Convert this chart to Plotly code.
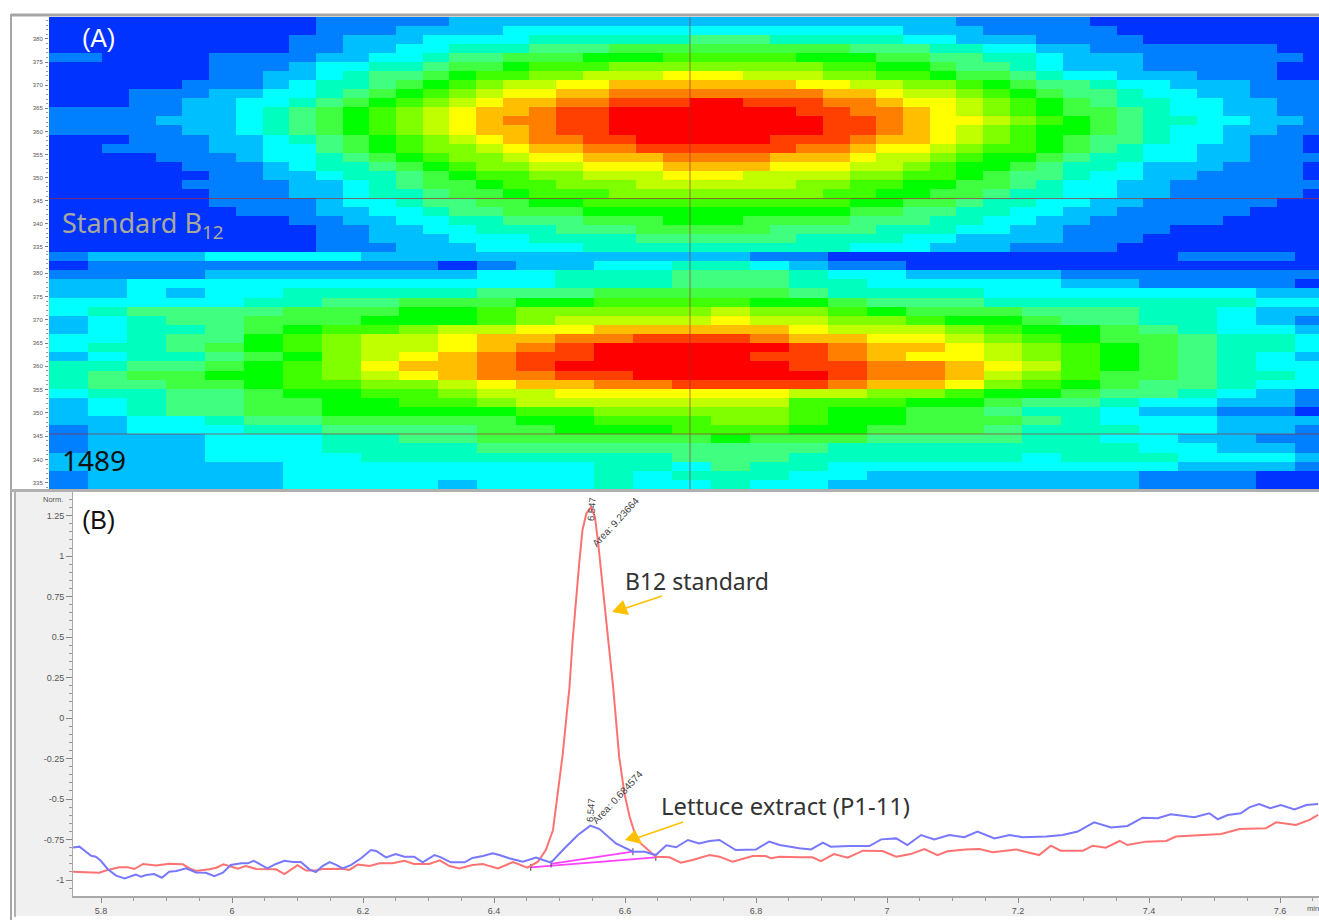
import plotly.graph_objects as go

W, H = 1319, 920

# Rainbow intensity levels used by the contour plots (index = level)
level_colors = ["#0033ff", "#0080ff", "#00bfff", "#00ffff", "#00ffbf", "#40ff80", "#40ff40", "#00ff00",
                "#40ff00", "#80ff00", "#bfff00", "#ffff00", "#ffbf00", "#ff8000", "#ff4000", "#ff0000"]

# Panel A, standard B12: run-length rows of hex levels (level*count), top row first
standard_rows = [
    "0*10 1*5 2*19 1*5 0*9",
    "0*10 1*3 2*4 3*15 2*3 1*5 0*8",
    "0*9 1*2 2*3 3*4 4*6 5*3 4*5 3*2 2*3 1*4 0*7",
    "0*9 1*2 2*2 3*2 4*3 5*3 6*9 5*3 4*2 3*2 2*2 1*7 0*2",
    "1*2 0*4 1*4 2*2 3*2 4 5*2 6*3 7*3 8*5 7*3 6*2 5*2 4*2 3 2*3 1*6 0",
    "0*6 1*3 2 3*2 4*2 5 6*2 7 8*3 9*8 8*2 7*2 6 5*2 4 3 2*3 1*5 0*2",
    "0*6 1*2 2*2 3 4 5*2 6 7 8*2 9*2 a*3 b*3 a*3 9*2 8*2 7 6*2 5 4 3*2 2*3 1*3 0*2",
    "0*5 1*3 2 3 4*2 5 6 7 8 9 a*2 b*2 c*7 b*2 a*2 9*2 8 7 6 5*2 4 3*2 2*3 1*3",
    "0*3 1*3 2*2 3*2 4 5 6 7 8 9 a b*2 c*2 d*8 c*2 b a*2 9 8 7 6 5*2 4 3*2 2*2 1*3",
    "0*3 1*2 2*2 3*2 4 5 6 7 8 9 a b c*2 d*2 e*3 f*2 e*3 d*2 c b*2 a 9 8 7 6 5 4*2 3*2 2*2 1*2",
    "1*5 2*2 3 4 5 6 7 8 9 a b c*2 d e*2 f*7 e*2 d*2 c b a 9 8 7 6 6 5 4 3*2 2*2 1*2",
    "1*4 2*3 3 4 5 6 7 8 9 a b c d d e*2 f*8 e*2 d c b*2 a 9 8 7 6 5 4 4 3*2 2*2 1",
    "1*5 2*2 3 4 5 6 7 8 9 a b c*2 d e*2 f*8 e*2 d c b a 9 8 7 7 6 5 4 3*2 2*2 1*2",
    "0*3 1*3 2*2 3 4 5 6 7 8 9 a b c d*2 e*2 f*5 e*3 d c*2 b a 9 8 7 6 5 5 4 3*2 2 1*2 0",
    "0*2 1*4 2*2 3*2 5 6 7 8 9 9 a b c*2 d*2 e*6 d*2 c b*2 a 9 8*2 7 6 5 4 3*2 2*2 1*2 0",
    "0*4 1*3 2 3*2 4 5 6 7 8 9 9 a b*2 c*3 d*4 c*3 b a*2 9 8 7*2 6 5 4*2 3*2 2*2 1*3",
    "0*5 1*3 2 3 4 4 5 6 7 8 9 9 a*2 b*3 c*4 b*3 a*2 9 8 7*2 6 5 4*2 3 2*3 1*3 0",
    "0*6 1*2 2*2 3 4 4 5 6 7 8 8 9 9 a*3 b*3 a*4 9*2 8*2 7 6 5*2 4 3*2 2*2 1*4 0",
    "0*5 1*4 2*2 3 4 5 6*2 7 8*2 9*3 a*6 9*2 8*2 7*2 6*2 5 4 3*2 2*2 1*6",
    "0*6 1*3 2*2 3 4*2 5 6*2 7 8*3 9*8 8*2 7*2 6*2 5 4*2 3*2 2*2 1*5 0",
    "0*6 1*4 2 3*2 4 5*2 6*2 7*2 8*10 7*2 6*2 5 4*2 3*2 2*2 1*5 0*2",
    "0*7 1*3 2*2 3*2 4 5*2 6*3 7*10 6*2 5*2 4*2 3*2 2*2 1*5 0*3",
    "0*9 1*2 2*2 3*2 4*2 5*3 6*3 7*3 6*4 5*3 4*2 3*2 2*2 1*5 0*4",
    "0*10 1*2 2*2 3*2 4*3 5*3 6*5 5*4 4*3 3*2 2*2 1*4 0*6",
    "0*10 1*2 2*3 3*3 4*4 5*6 4*4 3*2 2*4 1*3 0*7",
    "0*10 1*3 2*3 3*4 4*10 3*3 2*3 1*4 0*8",
]

# Panel A, sample 1489: same notation, top row first
sample_rows = [
    "1 2*3 3*4 2*10 1*2 0*9 1*3 0",
    "0 1*9 0 1 2*2 3*2 4*2 3 2 1*2 0*11",
    "1*4 2*7 3*2 4*3 5*3 4 3*2 2*4 1*7",
    "2*2 3*11 4*3 5*3 4*2 3*5 2*2 1*4 0",
    "2*2 3 2 3*2 4*5 5*3 6*5 5 4*4 3*7 2*2",
    "3*5 4*2 5*2 6*3 7*2 8*4 7*2 6 5*3 4*7 3*2",
    "3 4 5*4 6*3 7*2 8 9*5 a 9*2 8 7 6*3 5*3 4*2 3 2*2",
    "2 3 4 5*2 6*3 7*3 8 9 a*4 b a*2 9*2 8 7*2 6 5*2 4*2 3 2 1",
    "2 3 4*2 5 6 7 8*2 9 a*2 b*2 c*5 b a*3 9 8 7*2 6 5 4 3*2 2",
    "3 3 4 5 5 7 8 9 a a b c c d d e e e d c c b b a 9 8 7 6 6 5 4 4 3",
    "3 4 4 5 6 7 8 9 a a b c d e f f f f f e d c c b a 9 8 7 6 5 4 4 3",
    "2 3 4 4 5 6 7 9 a b c d e e f f f f e e d c b b a 9 8 7 6 5 4 3 2",
    "4 4 5 5 6 7 8 9 b c c d e f f f f f f e e d d c b a 8 7 6 5 4 3 3",
    "4 5 6 6 7 7 8 9 a b c d d e e f f f f f e d d c a 9 8 6 6 5 4 4 3",
    "4 5 5 6 6 7 8 8 9 9 a b c c d d e e e e d c c b 9 8 7 6 5 5 4 3 3",
    "3 4 4 5 5 6 7 7 8 8 9 a a b b b b b b a a 9 9 8 7 7 6 5 5 4 3 2 1",
    "2 3 4 5 5 6 6 7 7 8 8 9 a a a a a a a 8 8 8 7 7 6 5 5 4 3 3 2 2 1",
    "2 3 4 5 5 6 6 7 7 7 7 7 8 8 9 9 9 9 9 8 7 7 6 6 5 4 4 3 2 2 1 1 0",
    "2 2 3 3 4 5 5 6 6 6 6 6 7 7 8 8 8 9 9 8 7 7 6 6 6 5 4 3 3 3 2 2 2",
    "1 2 3 3 3 4 4 5 5 5 5 6 6 7 7 7 8 8 8 7 7 6 6 6 5 4 4 4 3 3 2 2 1",
    "1 2 2 2 3 3 3 4 4 5 5 6 6 6 6 6 6 7 6 6 6 5 5 5 5 4 4 3 3 2 2 1 1",
    "1 2 2 2 3 3 3 4 4 4 4 5 5 5 5 5 5 5 5 5 4 4 4 4 4 4 4 4 3 3 2 2 1",
    "2 2 2 2 3 3 3 3 4 4 4 4 4 4 4 4 5 5 5 4 4 4 4 4 4 3 4 4 4 3 3 3 2",
    "2 2 2 2 2 2 3 3 3 3 3 3 3 3 4 4 3 5 4 4 3 3 3 3 3 3 3 3 3 2 2 2 1",
    "1 2 2 2 2 2 3 3 3 3 3 3 3 3 4 3 4 4 4 3 3 2 2 2 2 2 2 2 1 1 1 0 0",
    "1 2 2 2 2 2 3 3 3 3 2 3 3 3 4 3 3 4 3 3 2 2 2 2 2 2 2 2 1 1 1 0 0",
]


def expand_runs(row):
    cells = []
    for tok in row.split():
        if "*" in tok:
            lvl, n = tok.split("*")
            cells += [int(lvl, 16)] * int(n)
        else:
            cells.append(int(tok, 16))
    return cells


z_standard = [expand_runs(r) for r in standard_rows]
z_sample = [expand_runs(r) for r in sample_rows]
assert all(len(r) == 48 for r in z_standard) and len(z_standard) == 26
assert all(len(r) == 33 for r in z_sample) and len(z_sample) == 26

mz_ticks = [335, 340, 345, 350, 355, 360, 365, 370, 375, 380]
norm_ticks = [-1, -0.75, -0.5, -0.25, 0, 0.25, 0.5, 0.75, 1, 1.25]
norm_tick_text = ["-1", "-0.75", "-0.5", "-0.25", "0", "0.25", "0.5", "0.75", "1", "1.25"]

# Panel B chromatograms: retention time (min), normalised response
standard_t = [5.757, 5.797, 5.810, 5.828, 5.841, 5.851, 5.864, 5.884, 5.904, 5.925, 5.935, 5.945, 5.965, 5.976,
              5.987, 5.998, 6.009, 6.021, 6.037, 6.067, 6.080, 6.100, 6.113, 6.126, 6.138, 6.169, 6.179, 6.192,
              6.210, 6.225, 6.245, 6.263, 6.278, 6.301, 6.317, 6.332, 6.347, 6.367, 6.383, 6.393, 6.406, 6.429,
              6.451, 6.467, 6.479, 6.490, 6.497, 6.505, 6.511, 6.515, 6.520, 6.525, 6.530, 6.535, 6.541, 6.548,
              6.554, 6.559, 6.565, 6.571, 6.577, 6.582, 6.591, 6.599, 6.607, 6.614, 6.624, 6.647, 6.668, 6.685,
              6.703, 6.729, 6.744, 6.764, 6.795,
              6.815, 6.823, 6.836, 6.866, 6.886, 6.899, 6.919, 6.940, 6.963, 6.993, 7.014, 7.036, 7.057, 7.077,
              7.092, 7.120, 7.141, 7.161, 7.197, 7.232, 7.250, 7.265, 7.299, 7.314, 7.334, 7.355, 7.367, 7.395,
              7.426, 7.441, 7.487, 7.510, 7.538, 7.578, 7.594, 7.624, 7.645, 7.658]
standard_v = [-0.949, -0.955, -0.938, -0.922, -0.922, -0.932, -0.901, -0.911, -0.899, -0.903, -0.928, -0.944,
              -0.934, -0.924, -0.903, -0.918, -0.930, -0.914, -0.932, -0.934, -0.963, -0.909, -0.942, -0.942,
              -0.932, -0.930, -0.938, -0.905, -0.914, -0.897, -0.897, -0.881, -0.901, -0.901, -0.879, -0.914,
              -0.928, -0.907, -0.901, -0.914, -0.928, -0.889,
              -0.924, -0.887, -0.815, -0.691, -0.485, -0.218, 0.029, 0.184, 0.482, 0.729, 0.956, 1.162, 1.265, 1.302,
              1.244, 1.079, 0.853, 0.606, 0.359, 0.184, -0.238, -0.465, -0.609, -0.701, -0.774, -0.856, -0.860, -0.893,
              -0.876, -0.846, -0.856, -0.887, -0.852, -0.852, -0.866, -0.856,
              -0.860, -0.860, -0.883, -0.840, -0.862, -0.819, -0.821, -0.856, -0.840, -0.809, -0.846, -0.823,
              -0.811, -0.809, -0.829, -0.811, -0.846, -0.788, -0.819, -0.819, -0.788, -0.800, -0.759, -0.784,
              -0.763, -0.759, -0.732, -0.722, -0.716, -0.685, -0.681, -0.644, -0.660, -0.629, -0.598]

lettuce_t = [5.757, 5.767, 5.777, 5.785, 5.792, 5.800, 5.810, 5.823, 5.836, 5.846, 5.853, 5.861, 5.869, 5.881,
             5.893, 5.904, 5.915, 5.930, 5.945, 5.960, 5.973, 5.986, 5.998, 6.014, 6.024, 6.033, 6.044, 6.054,
             6.067, 6.080, 6.093, 6.105, 6.118, 6.128, 6.138, 6.149, 6.159, 6.169, 6.182, 6.197, 6.212, 6.220,
             6.235, 6.250, 6.263, 6.278, 6.291, 6.309, 6.319, 6.334, 6.355, 6.367, 6.383, 6.398, 6.408, 6.423,
             6.444, 6.454, 6.464, 6.476, 6.487, 6.505, 6.528, 6.547, 6.561, 6.586, 6.612, 6.630, 6.647, 6.663,
             6.678, 6.696, 6.713, 6.729, 6.744, 6.769, 6.800, 6.820, 6.836, 6.866, 6.884, 6.902, 6.914, 6.942,
             6.973, 6.991, 7.014, 7.031, 7.052, 7.072, 7.095, 7.118, 7.138, 7.164, 7.187, 7.207, 7.243, 7.268,
             7.291, 7.316, 7.342, 7.367, 7.390, 7.413, 7.433, 7.469, 7.492, 7.505, 7.520, 7.540, 7.553, 7.568,
             7.585, 7.601, 7.622, 7.640, 7.658]
lettuce_v = [-0.800, -0.794, -0.825, -0.850, -0.856, -0.883, -0.932, -0.973, -0.990, -0.975, -0.967, -0.979,
             -0.969, -0.963, -0.986, -0.949, -0.944, -0.928, -0.953, -0.955, -0.977, -0.955, -0.907, -0.897,
             -0.897, -0.881, -0.903, -0.928, -0.901, -0.881, -0.889, -0.889, -0.934, -0.951, -0.914, -0.889,
             -0.907, -0.928, -0.907, -0.866, -0.815, -0.821, -0.860, -0.839, -0.856, -0.856, -0.891, -0.846,
             -0.860, -0.891, -0.891, -0.864, -0.852, -0.835, -0.846, -0.866, -0.887, -0.876, -0.862, -0.878, -0.893,
             -0.815, -0.722, -0.664, -0.685, -0.774, -0.825, -0.825, -0.846, -0.786, -0.798, -0.753,
             -0.774, -0.759, -0.753, -0.815, -0.811, -0.763, -0.784, -0.804, -0.811, -0.769, -0.794, -0.790,
             -0.790, -0.749, -0.743, -0.784, -0.722, -0.749, -0.722, -0.736, -0.701, -0.743, -0.722, -0.736,
             -0.732, -0.722, -0.701, -0.644, -0.675, -0.666, -0.615, -0.619, -0.594, -0.613, -0.588, -0.625,
             -0.599, -0.588, -0.551, -0.531, -0.557, -0.537, -0.564, -0.537, -0.531]

standard_baseline_t = [6.456, 6.647]
standard_baseline_v = [-0.922, -0.860]
lettuce_baseline_t = [6.487, 6.612]
lettuce_baseline_v = [-0.901, -0.825]
peak_time_label = "6.547"
standard_area_label = "Area: 9.23664"
lettuce_area_label = "Area: 0.684574"


def fx(x):
    return x / W


def fy(y):
    return 1 - y / H


colorscale = [[i / 15, c] for i, c in enumerate(level_colors)]
fig = go.Figure()

fig.add_trace(go.Heatmap(z=z_standard, x0=0, dx=1, y0=383.78, dy=-1.957, colorscale=colorscale, zmin=0, zmax=15,
                         showscale=False, xaxis="x", yaxis="y", hoverinfo="skip"))
fig.add_trace(go.Heatmap(z=z_sample, x0=0, dx=1, y0=383.55, dy=-1.956, colorscale=colorscale, zmin=0, zmax=15,
                         showscale=False, xaxis="x2", yaxis="y2", hoverinfo="skip"))

line_red, line_blue, magenta = "#ff7272", "#7878ff", "#ff40ff"
fig.add_trace(go.Scatter(x=standard_baseline_t, y=standard_baseline_v, mode="lines+markers", xaxis="x3", yaxis="y3",
                         line=dict(color=magenta, width=1.8),
                         marker=dict(symbol="line-ns", size=5, line=dict(color="#444444", width=1), color="#444444")))
fig.add_trace(go.Scatter(x=lettuce_baseline_t, y=lettuce_baseline_v, mode="lines+markers", xaxis="x3", yaxis="y3",
                         line=dict(color=magenta, width=1.8),
                         marker=dict(symbol="line-ns", size=5, line=dict(color="#444444", width=1), color="#444444")))
fig.add_trace(go.Scatter(x=standard_t, y=standard_v, mode="lines", xaxis="x3", yaxis="y3",
                         line=dict(color=line_red, width=2)))
fig.add_trace(go.Scatter(x=lettuce_t, y=lettuce_v, mode="lines", xaxis="x3", yaxis="y3",
                         line=dict(color=line_blue, width=2)))

tick_gray = "#555555"
heat_y = dict(tickmode="array", tickvals=mz_ticks, ticktext=[str(v) for v in mz_ticks], ticks="outside", ticklen=3,
              tickcolor="#777777", tickfont=dict(size=6, color=tick_gray, family="Liberation Sans"),
              showgrid=False, zeroline=False, showline=False, ticklabelstandoff=1,
              minor=dict(tickmode="linear", tick0=335, dtick=1, ticks="outside", ticklen=2, tickcolor="#999999"))

layout = dict(
    width=W, height=H, autosize=False, showlegend=False,
    margin=dict(l=0, r=0, t=0, b=0, pad=0),
    paper_bgcolor="white", plot_bgcolor="rgba(0,0,0,0)",
    font=dict(family="Liberation Sans"),
    xaxis=dict(domain=[fx(49), 1], range=[-0.5, -0.5 + (W - 49) / 26.69], visible=False, anchor="y"),
    yaxis=dict(domain=[fy(252), fy(17)], range=[333.9, 384.76], anchor="x", **heat_y),
    xaxis2=dict(domain=[fx(49), 1], range=[-0.5, -0.5 + (W - 49) / 38.93], visible=False, anchor="y2"),
    yaxis2=dict(domain=[fy(489), fy(252)], range=[333.67, 384.53], anchor="x2", **heat_y),
    xaxis3=dict(domain=[fx(73), 1], range=[5.7572, 7.6594], anchor="y3", tick0=5.8, dtick=0.2, ticks="outside",
                ticklen=5, tickcolor="#888888", showgrid=False, zeroline=False, showline=True, linecolor="#aaaaaa",
                linewidth=2, tickformat="~r", tickfont=dict(size=9, color=tick_gray),
                minor=dict(tick0=5.8, dtick=0.05, ticks="outside", ticklen=3, tickcolor="#999999")),
    yaxis3=dict(domain=[fy(896), fy(492)], range=[-1.0988, 1.3964], anchor="x3", tickmode="array",
                tickvals=norm_ticks, ticktext=norm_tick_text, ticks="outside",
                ticklen=6, tickcolor="#888888", showgrid=False, zeroline=False, showline=True, linecolor="#aaaaaa",
                linewidth=1, tickfont=dict(size=9, color=tick_gray),
                minor=dict(tickmode="linear", tick0=-1, dtick=0.05, ticks="outside", ticklen=3, tickcolor="#999999")),
)


def band(x0, y0, x1, y1, color):
    return dict(type="rect", xref="paper", yref="paper", x0=fx(x0), x1=fx(x1), y0=fy(y0), y1=fy(y1),
                fillcolor=color, line=dict(width=0), layer="below")


def rule(x0, y0, x1, y1, color, width=1, layer="above"):
    return dict(type="line", xref="paper", yref="paper", x0=fx(x0), x1=fx(x1), y0=fy(y0), y1=fy(y1),
                line=dict(color=color, width=width), layer=layer)


def arrow_head(tip, left, right, color):
    path = "M {} {} L {} {} L {} {} Z".format(fx(tip[0]), fy(tip[1]), fx(left[0]), fy(left[1]), fx(right[0]), fy(right[1]))
    return dict(type="path", xref="paper", yref="paper", path=path, fillcolor=color, line=dict(width=0), layer="above")


cross = "rgba(165,40,50,0.65)"
arrow_orange = "#ffc000"
layout["shapes"] = [
    band(16, 492, 73, 897, "#f0f0f0"),
    band(16, 897, W, 916, "#f0f0f0"),
    rule(11, 15, W, 15, "#a6a6a6", 3),
    rule(11, 14, 11, 920, "#a6a6a6", 2),
    rule(15, 490, 15, 917, "#b0b0b0", 2),
    rule(11, 490.5, W, 490.5, "#b0b0b0", 3),
    rule(49, 198.5, W, 198.5, cross, 1),
    rule(49, 434, W, 434, cross, 1),
    rule(690, 17, 690, 489, cross, 1),
    rule(662, 596, 620, 610, arrow_orange, 1.6),
    arrow_head((612, 612), (623, 600), (629, 615), arrow_orange),
    rule(683, 822, 634, 839, arrow_orange, 1.6),
    arrow_head((625, 840), (635, 830), (642, 844), arrow_orange),
]


def label(x, y, text, size, color, family="Liberation Sans", anchor="left", angle=0):
    return dict(xref="paper", yref="paper", x=fx(x), y=fy(y), text=text, showarrow=False, xanchor=anchor,
                yanchor="middle", font=dict(size=size, color=color, family=family), textangle=angle)


layout["annotations"] = [
    label(80, 38, "(A)", 25, "white"),
    label(80, 520, "(B)", 25, "#111111"),
    label(60, 225, "Standard B<sub>12</sub>", 27, "#a8a89c", "Noto Sans"),
    label(60, 460, "1489", 28, "#111111", "Noto Sans"),
    label(623, 581, "B12 standard", 23, "#333333", "Noto Sans"),
    label(659, 806, "Lettuce extract (P1-11)", 23.8, "#333333", "Noto Sans"),
    label(41, 499, "Norm.", 7.5, tick_gray),
    label(1305, 908, "min", 7.5, tick_gray),
    label(591, 509, peak_time_label, 9.5, "#444444", anchor="center", angle=-85),
    label(615, 522, standard_area_label, 10, "#444444", anchor="center", angle=-47),
    label(590, 810, peak_time_label, 9.5, "#444444", anchor="center", angle=-85),
    label(617, 797, lettuce_area_label, 10, "#444444", anchor="center", angle=-47),
]

fig.update_layout(**layout)
fig.write_html("out.html", config=dict(displayModeBar=False),
               post_script="document.body.style.margin='0';document.body.style.overflow='hidden';")
